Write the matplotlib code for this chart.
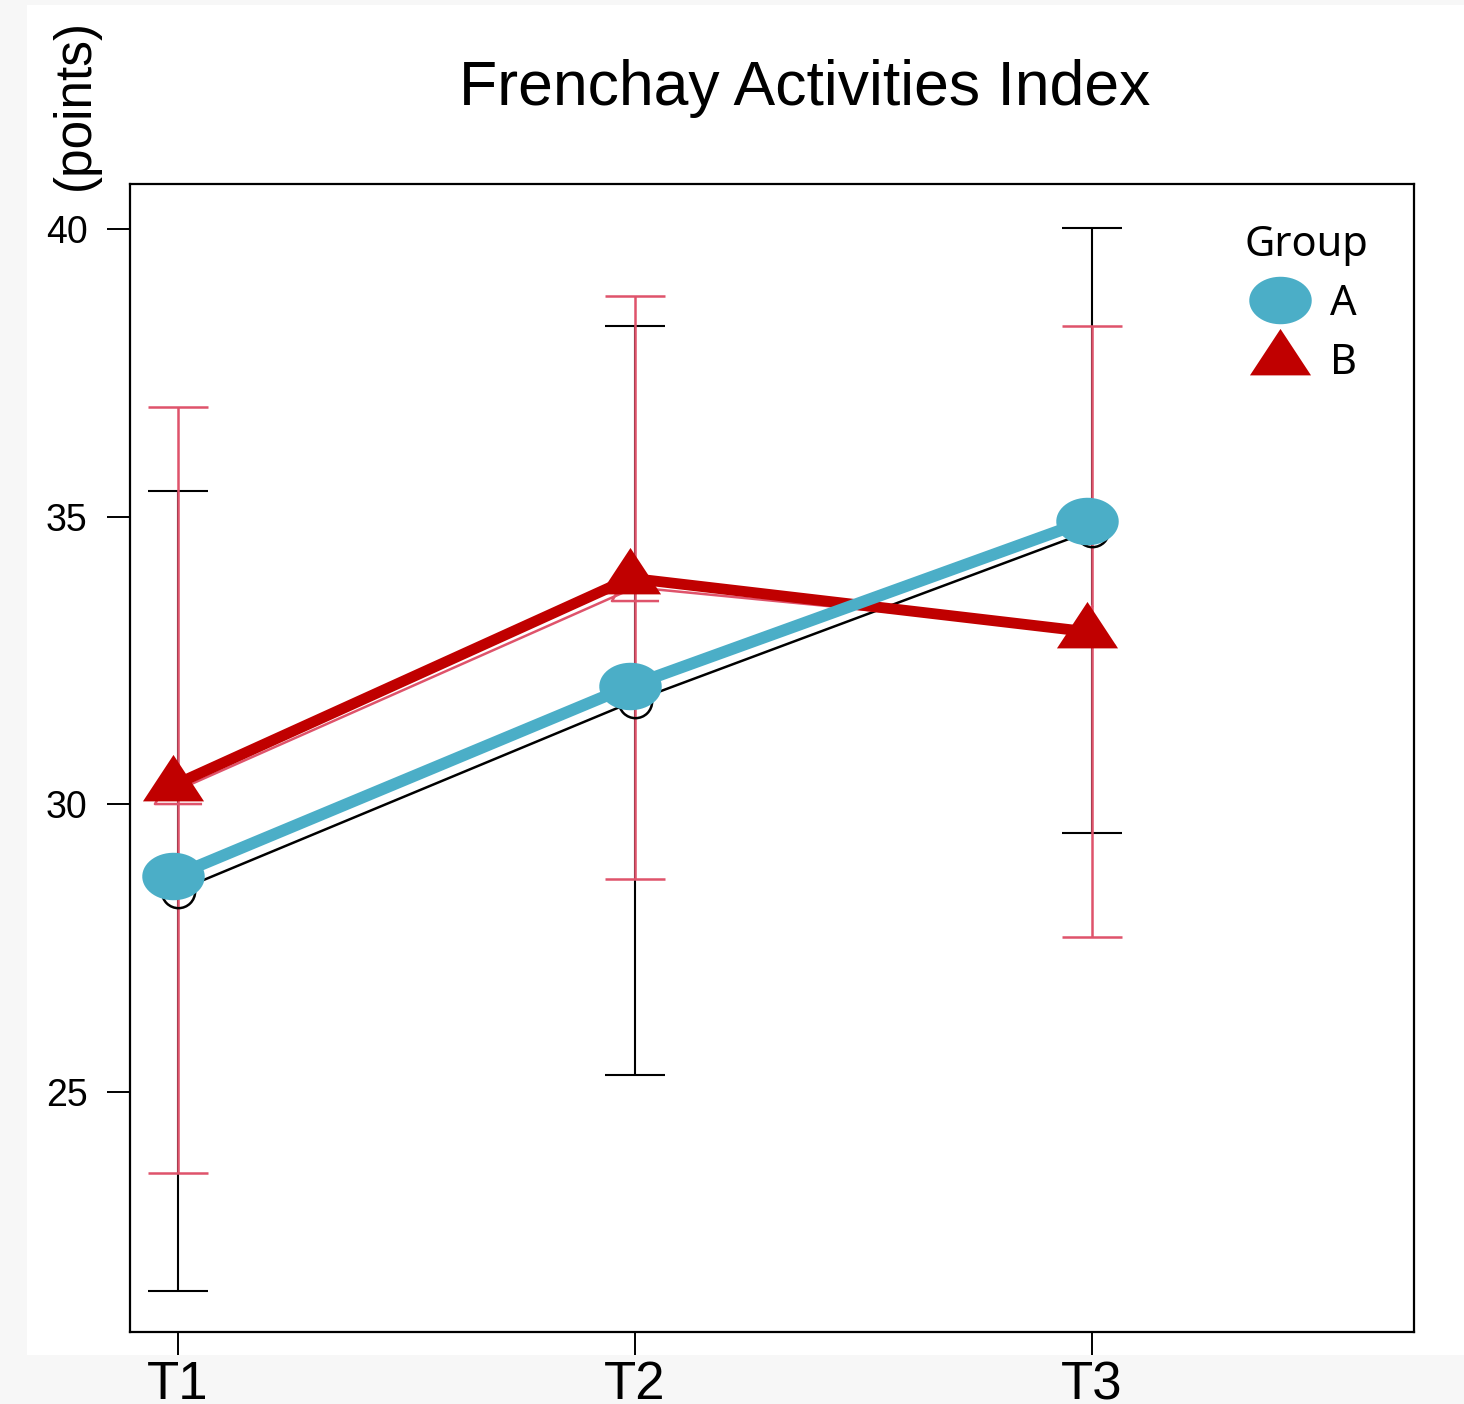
import numpy as np
import matplotlib
matplotlib.use("Agg")
import matplotlib.pyplot as plt
from matplotlib.lines import Line2D
from matplotlib.patches import Rectangle

# ---- data ----
time_labels = ["T1", "T2", "T3"]
a_mean = [28.5, 31.8, 34.76]
a_sd = [6.95, 6.51, 5.26]
b_mean = [30.25, 33.77, 33.0]
b_sd = [6.65, 5.06, 5.31]
a_fit = [28.75, 32.06, 34.93]
b_fit = [30.33, 33.93, 33.0]
yticks = [25, 30, 35, 40]

W, H = 1464, 1404
fig = plt.figure(figsize=(W / 100, H / 100), dpi=100, facecolor="#f7f7f7")
bg = Rectangle((27 / W, 1 - 1355 / H), 1 - 27 / W, (1355 - 5) / H,
               transform=fig.transFigure, facecolor="white",
               edgecolor="none", zorder=-10)
fig.patches.append(bg)

ax = fig.add_axes([130 / W, 1 - 1332 / H, (1414 - 130) / W, (1332 - 184) / H])
ax.set_zorder(5)
ax.set_facecolor("white")

x = np.arange(1, len(time_labels) + 1)
xo = x - 0.01

tri_filled = [(0, 1.0), (-1, -0.52), (1, -0.52)]
tri_open = [(0, 1.0), (-0.87, -0.5), (0.87, -0.5)]
t = np.linspace(0, 2 * np.pi, 60)
ellipse = list(zip(np.cos(t), 0.76 * np.sin(t)))

pink = "#DF536B"
teal = "#4BAEC7"
red = "#C00000"

# SD error bars
ax.errorbar(x, a_mean, yerr=a_sd, fmt="none", ecolor="black", elinewidth=1.5,
            capsize=21.5, capthick=1.5, zorder=2)
ax.errorbar(x, b_mean, yerr=b_sd, fmt="none", ecolor=pink, elinewidth=1.8,
            capsize=21.5, capthick=1.8, zorder=3)

# thin lines with open markers
ax.plot(x, a_mean, color="black", lw=1.8, marker="o", ms=24, mfc="none",
        mec="black", mew=1.8, zorder=4)
ax.plot(x, b_mean, color=pink, lw=1.8, marker=tri_open, ms=39, mfc="none",
        mec=pink, mew=1.8, zorder=4)

# thick overlay lines
ax.plot(xo, a_fit, color=teal, lw=8.5, marker=ellipse, ms=45, mfc=teal,
        mec=teal, mew=0, zorder=6, solid_capstyle="butt")
ax.plot(xo, b_fit, color=red, lw=7.8, marker=tri_filled, ms=44, mfc=red,
        mec=red, mew=0, zorder=5, solid_capstyle="butt")

ax.set_xlim(0.895, 3.705)
ax.set_ylim(20.83, 40.78)
ax.set_xticks(x)
ax.set_xticklabels(time_labels, fontsize=38, family="Liberation Sans")
ax.set_yticks(yticks)
ax.set_yticklabels([str(v) for v in yticks], fontsize=27, family="Liberation Sans")
ax.tick_params(axis="both", direction="out", length=16.5, width=1.4, color="black")
ax.tick_params(axis="y", pad=14)
ax.tick_params(axis="x", pad=4)
for s in ax.spines.values():
    s.set_linewidth(1.6)
    s.set_color("black")

# legend
handles = [
    Line2D([], [], linestyle="none", marker=ellipse, ms=45, mfc=teal, mec=teal, mew=0),
    Line2D([], [], linestyle="none", marker=tri_filled, ms=44, mfc=red, mec=red, mew=0),
]
leg = ax.legend(handles, ["A", "B"], title="Group", loc="upper left",
                bbox_to_anchor=(0.868, 0.965), frameon=False,
                prop={"family": "Noto Sans", "size": 30},
                title_fontproperties={"family": "Noto Sans", "size": 30},
                handlelength=1.2, handletextpad=0.6, labelspacing=0.4,
                borderpad=0.0, borderaxespad=0.0)

fig.text(805 / W, 1 - 105 / H, "Frenchay Activities Index", ha="center",
         va="baseline", fontsize=45, family="Liberation Sans")
fig.text(75 / W, 1 - 105 / H, "(points)", rotation=90, ha="center",
         va="center", fontsize=37, family="Liberation Sans")
fig.text(245 / W, 1 - 1302 / H, "SD", ha="left", va="baseline", fontsize=37,
         family="Liberation Sans")

fig.savefig("out.png", dpi=100, facecolor=fig.get_facecolor())
